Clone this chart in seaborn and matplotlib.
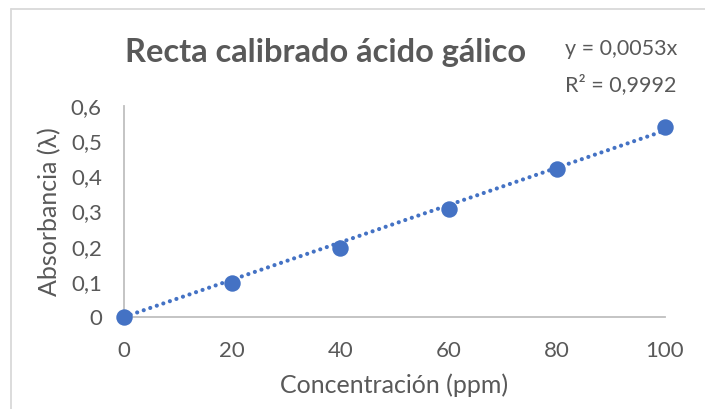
import numpy as np
import pandas as pd
import matplotlib
matplotlib.use("Agg")
import matplotlib.pyplot as plt
from matplotlib.lines import Line2D
from matplotlib.ticker import FuncFormatter
import seaborn as sns

# Calibration data: gallic acid standards
concentracion = [0, 20, 40, 60, 80, 100]           # ppm
absorbancia = [0.0, 0.097, 0.197, 0.307, 0.421, 0.539]
pendiente = 0.0053                                  # trendline slope (through origin)
r2 = 0.9992
x_ticks = [0, 20, 40, 60, 80, 100]
y_ticks = [0, 0.1, 0.2, 0.3, 0.4, 0.5, 0.6]

titulo = "Recta calibrado ácido gálico"
eq_text = "y = 0,0053x"
r2_text = "R² = 0,9992"
x_label = "Concentración (ppm)"
y_label = "Absorbancia (λ)"

sns.set_theme(style="white")
plt.rcParams["font.family"] = ["Lato", "DejaVu Sans"]

BLUE = "#4472C4"
GREY_TXT = "#595959"
GREY_AX = "#BFBFBF"

df = pd.DataFrame({"x": concentracion, "y": absorbancia})
trend = pd.DataFrame({"x": [x_ticks[0], x_ticks[-1]]})
trend["y"] = pendiente * trend["x"]

fig = plt.figure(figsize=(7.05, 4.09), dpi=100)
ax = fig.add_axes([0.176, 0.225, 0.767, 0.516])

sns.lineplot(data=trend, x="x", y="y", ax=ax, color=BLUE, linewidth=3.0,
             dashes=False, zorder=2, clip_on=False)
ax.lines[-1].set_linestyle((0, (0.01, 1.65)))
ax.lines[-1].set_dash_capstyle("round")
sns.scatterplot(data=df, x="x", y="y", ax=ax, color=BLUE, s=140,
                edgecolor=BLUE, linewidth=0, zorder=3, clip_on=False)

ax.set_xlim(0, 100)
ax.set_ylim(0, 0.6)
ax.set_xticks(x_ticks)
ax.set_yticks(y_ticks)
ax.yaxis.set_major_formatter(FuncFormatter(
    lambda v, p: "0" if abs(v) < 1e-9 else f"{v:.1f}".replace(".", ",")))
ax.tick_params(axis="both", length=0, labelsize=16, colors=GREY_TXT)
ax.tick_params(axis="y", pad=16)
ax.tick_params(axis="x", pad=17)

for side in ["top", "right"]:
    ax.spines[side].set_visible(False)
for side in ["left", "bottom"]:
    ax.spines[side].set_color(GREY_AX)
    ax.spines[side].set_linewidth(1.3)
    ax.spines[side].set_zorder(1)

ax.set_xlabel(x_label, fontsize=18, color=GREY_TXT, labelpad=9)
ax.set_ylabel(y_label, fontsize=18, color=GREY_TXT, labelpad=7)

fig.text(0.462, 0.872, titulo, ha="center", va="center", fontsize=23.5,
         fontweight="bold", color=GREY_TXT)
fig.text(0.802, 0.880, eq_text, ha="left", va="center", fontsize=15.5, color=GREY_TXT)
fig.text(0.802, 0.793, r2_text, ha="left", va="center", fontsize=15.5, color=GREY_TXT)

# chart area frame (top and left edges)
fig.add_artist(Line2D([11 / 705, 1.0], [1 - 9 / 409, 1 - 9 / 409],
                      transform=fig.transFigure, color="#D9D9D9", linewidth=1.3))
fig.add_artist(Line2D([11 / 705, 11 / 705], [0.0, 1 - 9 / 409],
                      transform=fig.transFigure, color="#D9D9D9", linewidth=1.3))

fig.savefig("out.png", dpi=100, facecolor="white")
